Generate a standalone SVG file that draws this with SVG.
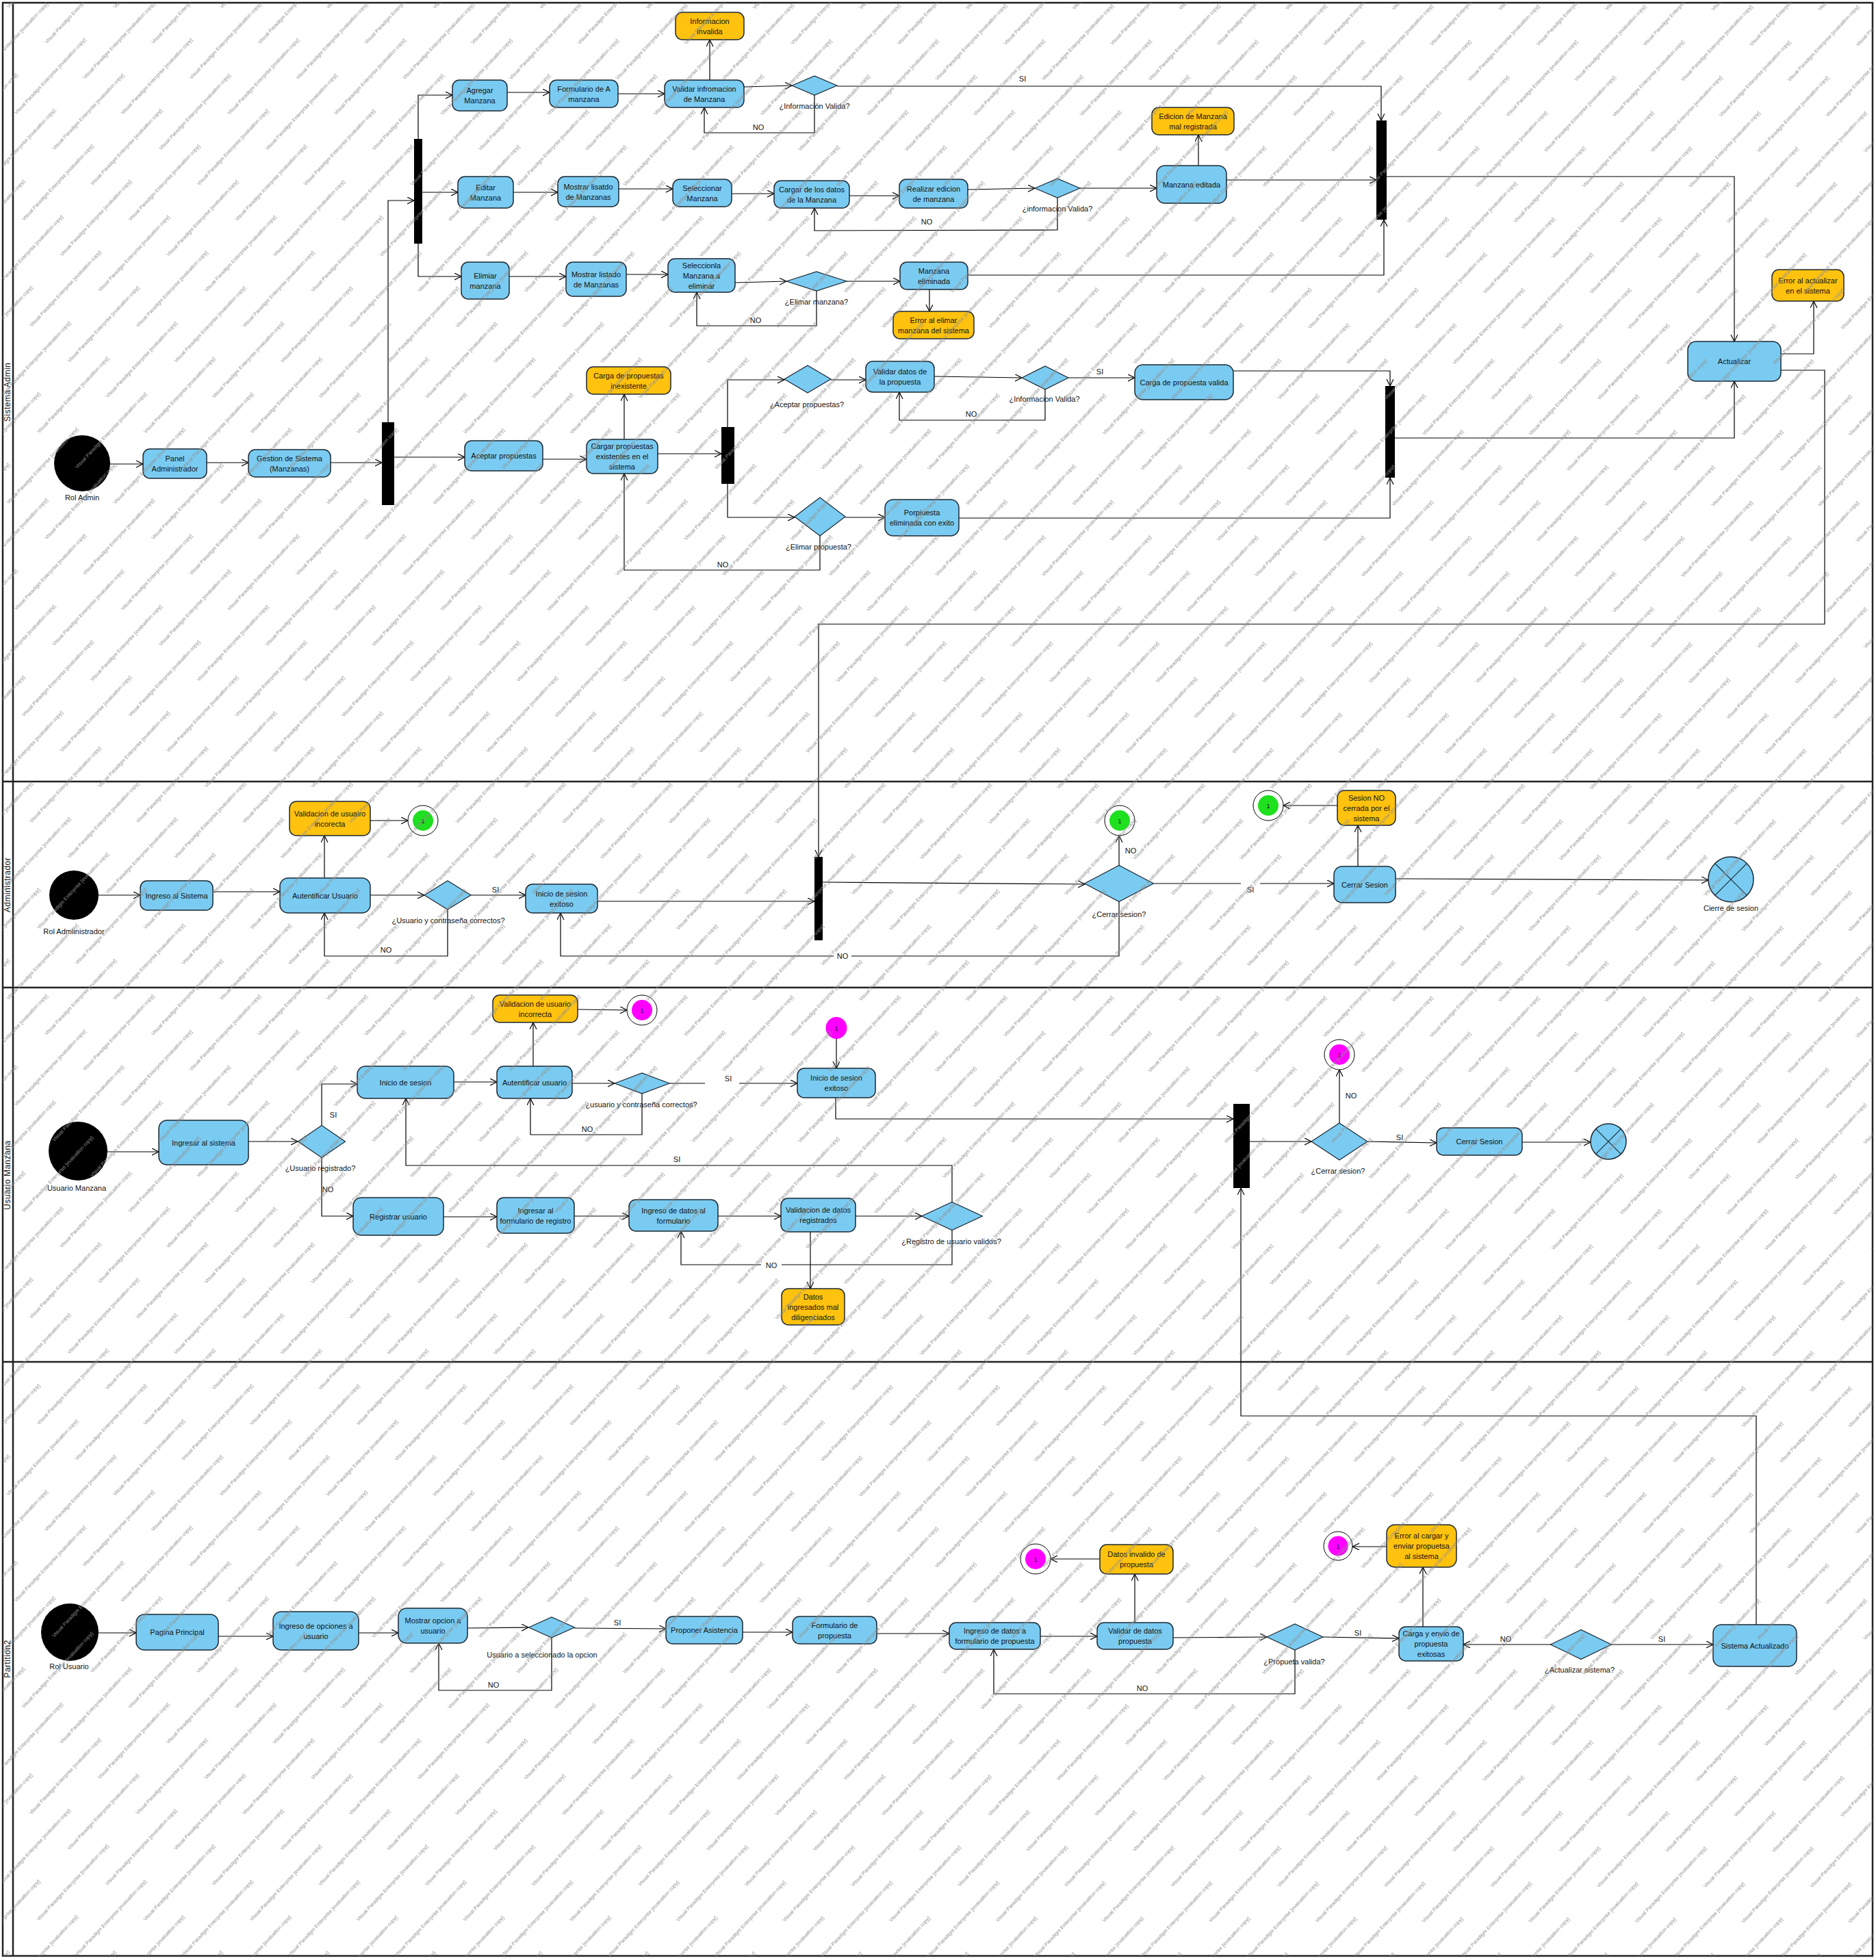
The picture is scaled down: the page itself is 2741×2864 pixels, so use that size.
<svg xmlns="http://www.w3.org/2000/svg" width="2741" height="2864" viewBox="0 0 2741 2864">
<defs>
<style>
text{font-family:"Liberation Sans",Arial,sans-serif;font-size:11px;fill:#111;}
.c{text-anchor:middle;}
.act{fill:#7ACBF1;stroke:#1c2833;stroke-width:1.5;}
.warn{fill:#FFC20E;stroke:#1c2833;stroke-width:1.5;}
.dec{fill:#7ACBF1;stroke:#1c2833;stroke-width:1.2;}
.bar{fill:#000;}
.init{fill:#000;}
.edge{fill:none;stroke:#000;stroke-width:1.2;}
.lane{fill:none;stroke:#222;stroke-width:2.5;}
.ring{fill:#fff;stroke:#000;stroke-width:1;}
.wm{font-size:7.5px;fill:#8e8e8e;}
.gap{fill:#fff;}
.lanelbl{font-size:12px;letter-spacing:0.5px;}
</style>
<marker id="arr" markerUnits="userSpaceOnUse" markerWidth="12" markerHeight="12" refX="10" refY="5" orient="auto">
<path d="M0,0 L10,5 L0,10" fill="none" stroke="#000" stroke-width="1.2"/>
</marker>
<pattern id="wmp" patternUnits="userSpaceOnUse" width="212" height="76" patternTransform="rotate(-47)">
<text class="wm" x="0" y="18">Visual Paradigm Enterprise [evaluation copy]</text>
<text class="wm" x="106" y="56">Visual Paradigm Enterprise [evaluation copy]</text>
<text class="wm" x="-106" y="56">Visual Paradigm Enterprise [evaluation copy]</text>
</pattern>
</defs>
<rect x="0" y="0" width="2741" height="2864" fill="#fff"/>

<g id="lanes">
<rect class="lane" x="4" y="4" width="2732" height="2854"/>
<line class="lane" x1="19" y1="4" x2="19" y2="2858"/>
<line class="lane" x1="4" y1="1142" x2="2736" y2="1142"/>
<line class="lane" x1="4" y1="1443" x2="2736" y2="1443"/>
<line class="lane" x1="4" y1="1990" x2="2736" y2="1990"/>
<text class="c lanelbl" transform="translate(15,573) rotate(-90)">Sistema Admin</text>
<text class="c lanelbl" transform="translate(15,1293) rotate(-90)">Administrador</text>
<text class="c lanelbl" transform="translate(15,1717) rotate(-90)">Usuario Manzana</text>
<text class="c lanelbl" transform="translate(15,2424) rotate(-90)">Partition2</text>
</g>

<g id="connectors" marker-end="url(#arr)">
<!-- lane 1 -->
<polyline class="edge" points="161,678 209,678"/>
<polyline class="edge" points="302,676 363,676"/>
<polyline class="edge" points="483,676 558,676"/>
<polyline class="edge" points="567,617 567,293 605,293"/>
<polyline class="edge" points="611,203 611,139 661,139"/>
<polyline class="edge" points="617,281 669,281"/>
<polyline class="edge" points="611,356 611,404 674,404"/>
<polyline class="edge" points="741,135 803,135"/>
<polyline class="edge" points="903,137 971,137"/>
<polyline class="edge" points="1037,117 1037,58"/>
<polyline class="edge" points="1087,127 1157,125"/>
<polyline class="edge" points="1190,139 1190,194 1029,194 1029,157"/>
<polyline class="edge" points="1223,126 2018,126 2018,176"/>
<polyline class="edge" points="750,281 815,281"/>
<polyline class="edge" points="904,276 983,276"/>
<polyline class="edge" points="1069,283 1131,283"/>
<polyline class="edge" points="1241,286 1314,286"/>
<polyline class="edge" points="1414,277 1512,275"/>
<polyline class="edge" points="1545,289 1545,336 1190,337 1190,304"/>
<polyline class="edge" points="1578,275 1690,275"/>
<polyline class="edge" points="1751,242 1751,197"/>
<polyline class="edge" points="1792,263 2011,263"/>
<polyline class="edge" points="744,404 827,404"/>
<polyline class="edge" points="915,401 976,401"/>
<polyline class="edge" points="1074,413 1149,411"/>
<polyline class="edge" points="1193,425 1193,476 1018,476 1018,427"/>
<polyline class="edge" points="1237,411 1315,411"/>
<polyline class="edge" points="1358,423 1358,455"/>
<polyline class="edge" points="1414,402 2022,402 2022,321"/>
<polyline class="edge" points="2026,258 2534,258 2534,499"/>
<polyline class="edge" points="2602,517 2650,517 2650,440"/>
<polyline class="edge" points="2602,541 2666,541 2666,912 1196,912 1196,1252"/>
<polyline class="edge" points="2038,640 2534,640 2534,557"/>
<polyline class="edge" points="576,668 679,668"/>
<polyline class="edge" points="793,671 857,671"/>
<polyline class="edge" points="912,642 912,576"/>
<polyline class="edge" points="961,663 1054,663"/>
<polyline class="edge" points="1063,624 1063,555 1146,555"/>
<polyline class="edge" points="1214,555 1265,555"/>
<polyline class="edge" points="1365,550 1493,552"/>
<polyline class="edge" points="1527,569 1527,614 1314,614 1314,573"/>
<polyline class="edge" points="1561,552 1658,552"/>
<polyline class="edge" points="1802,542 2031,542 2031,564"/>
<polyline class="edge" points="1063,707 1063,756 1161,756"/>
<polyline class="edge" points="1235,756 1293,756"/>
<polyline class="edge" points="1198,783 1198,833 912,833 912,692"/>
<polyline class="edge" points="1401,757 2031,757 2031,698"/>
<!-- lane 2 -->
<polyline class="edge" points="144,1308 205,1308"/>
<polyline class="edge" points="311,1303 409,1303"/>
<polyline class="edge" points="474,1283 474,1221"/>
<polyline class="edge" points="541,1199 596,1199"/>
<polyline class="edge" points="541,1308 620,1308"/>
<polyline class="edge" points="654,1329 654,1397 474,1397 474,1334"/>
<polyline class="edge" points="688,1308 768,1308"/>
<polyline class="edge" points="873,1317 1190,1317"/>
<polyline class="edge" points="1202,1289 1585,1292"/>
<polyline class="edge" points="1635,1265 1635,1221"/>
<polyline class="edge" points="1635,1318 1635,1397 819,1397 819,1334"/>
<polyline class="edge" points="1686,1291 1949,1291"/>
<polyline class="edge" points="1984,1266 1984,1206"/>
<polyline class="edge" points="1954,1177 1875,1177"/>
<polyline class="edge" points="2039,1284 2496,1286"/>
<!-- lane 3 -->
<polyline class="edge" points="157,1683 232,1683"/>
<polyline class="edge" points="363,1668 435,1668"/>
<polyline class="edge" points="470,1644 470,1584 522,1584"/>
<polyline class="edge" points="470,1691 470,1777 516,1777"/>
<polyline class="edge" points="663,1581 726,1581"/>
<polyline class="edge" points="779,1558 779,1494"/>
<polyline class="edge" points="844,1475 916,1476"/>
<polyline class="edge" points="836,1583 898,1583"/>
<polyline class="edge" points="938,1598 938,1658 775,1658 775,1605"/>
<polyline class="edge" points="978,1583 1165,1583"/>
<polyline class="edge" points="1222,1518 1222,1561"/>
<polyline class="edge" points="1221,1604 1221,1635 1802,1635"/>
<polyline class="edge" points="648,1778 726,1778"/>
<polyline class="edge" points="839,1777 919,1777"/>
<polyline class="edge" points="1049,1777 1141,1777"/>
<polyline class="edge" points="1250,1777 1347,1777"/>
<polyline class="edge" points="1184,1800 1184,1883"/>
<polyline class="edge" points="1391,1757 1391,1703 593,1703 593,1605"/>
<polyline class="edge" points="1391,1798 1391,1848 995,1848 995,1799"/>
<polyline class="edge" points="1826,1668 1916,1668"/>
<polyline class="edge" points="1957,1641 1957,1563"/>
<polyline class="edge" points="1998,1668 2099,1670"/>
<polyline class="edge" points="2224,1669 2324,1669"/>
<polyline class="edge" points="2566,2374 2566,2069 1813,2069 1813,1736"/>
<!-- lane 4 -->
<polyline class="edge" points="144,2386 199,2386"/>
<polyline class="edge" points="319,2391 399,2391"/>
<polyline class="edge" points="524,2386 582,2386"/>
<polyline class="edge" points="683,2379 772,2378"/>
<polyline class="edge" points="806,2393 806,2470 641,2470 641,2401"/>
<polyline class="edge" points="839,2379 973,2380"/>
<polyline class="edge" points="1085,2385 1158,2385"/>
<polyline class="edge" points="1281,2387 1387,2387"/>
<polyline class="edge" points="1520,2391 1603,2391"/>
<polyline class="edge" points="1658,2371 1658,2300"/>
<polyline class="edge" points="1607,2278 1535,2278"/>
<polyline class="edge" points="1714,2393 1851,2392"/>
<polyline class="edge" points="1892,2411 1892,2475 1452,2475 1452,2410"/>
<polyline class="edge" points="1933,2392 2044,2394"/>
<polyline class="edge" points="2079,2377 2079,2290"/>
<polyline class="edge" points="2026,2260 1976,2260"/>
<polyline class="edge" points="2266,2403 2138,2403"/>
<polyline class="edge" points="2355,2403 2503,2403"/>
</g>

<g id="edge-labels">
<text class="c" x="1108" y="190">NO</text>
<text class="c" x="1494" y="119">SI</text>
<text class="c" x="1354" y="328">NO</text>
<text class="c" x="1104" y="472">NO</text>
<text class="c" x="1419" y="609">NO</text>
<text class="c" x="1607" y="547">SI</text>
<text class="c" x="1056" y="829">NO</text>
<text class="c" x="564" y="1392">NO</text>
<text class="c" x="724" y="1304">SI</text>
<text class="c" x="1652" y="1247">NO</text>
<rect class="gap" x="1218" y="1390" width="26" height="14"/>
<text class="c" x="1231" y="1401">NO</text>
<rect class="gap" x="1813" y="1284" width="28" height="20"/>
<text class="c" x="1827" y="1304">SI</text>
<text class="c" x="487" y="1633">SI</text>
<text class="c" x="479" y="1742">NO</text>
<text class="c" x="858" y="1654">NO</text>
<rect class="gap" x="1030" y="1576" width="50" height="14"/>
<text class="c" x="1064" y="1580">SI</text>
<text class="c" x="989" y="1698">SI</text>
<rect class="gap" x="1112" y="1841" width="30" height="14"/>
<text class="c" x="1127" y="1853">NO</text>
<text class="c" x="1974" y="1605">NO</text>
<text class="c" x="2045" y="1666">SI</text>
<text class="c" x="721" y="2466">NO</text>
<text class="c" x="902" y="2375">SI</text>
<text class="c" x="1669" y="2471">NO</text>
<text class="c" x="1984" y="2390">SI</text>
<text class="c" x="2200" y="2399">NO</text>
<text class="c" x="2428" y="2399">SI</text>
</g>

<!-- ===== Lane 1: Sistema Admin ===== -->
<g id="n-rol-admin"><circle class="init" cx="120" cy="677" r="41"/><text class="c" x="120" y="731">Rol Admin</text></g>
<g id="n-panel"><rect class="act" x="209" y="656" width="93" height="43" rx="10"/><text class="c" x="255.5" y="674">Panel</text><text class="c" x="255.5" y="689">Administrador</text></g>
<g id="n-gestion"><rect class="act" x="363" y="657" width="120" height="40" rx="10"/><text class="c" x="423" y="673.5">Gestion de Sistema</text><text class="c" x="423" y="688.5">(Manzanas)</text></g>
<g id="bar-a"><rect class="bar" x="558" y="617" width="18" height="121"/></g>
<g id="bar-b"><rect class="bar" x="605" y="203" width="12" height="153"/></g>
<g id="n-agregar"><rect class="act" x="661" y="117" width="80" height="45" rx="10"/><text class="c" x="701" y="136">Agregar</text><text class="c" x="701" y="151">Manzana</text></g>
<g id="n-formA"><rect class="act" x="803" y="117" width="100" height="40" rx="10"/><text class="c" x="853" y="133.5">Formulario de A</text><text class="c" x="853" y="148.5">manzana</text></g>
<g id="n-validar-info"><rect class="act" x="971" y="117" width="116" height="40" rx="10"/><text class="c" x="1029" y="133.5">Validar infromacion</text><text class="c" x="1029" y="148.5">de Manzana</text></g>
<g id="n-info-invalida"><rect class="warn" x="987" y="18" width="100" height="40" rx="10"/><text class="c" x="1037" y="34.5">Informacion</text><text class="c" x="1037" y="49.5">invalida</text></g>
<g id="d1"><polygon class="dec" points="1157,125 1190,111 1223,125 1190,139"/><text class="c" x="1190" y="159">¿Información Valida?</text></g>
<g id="n-editar"><rect class="act" x="669" y="258" width="81" height="46" rx="10"/><text class="c" x="709.5" y="277.5">Editar</text><text class="c" x="709.5" y="292.5">Manzana</text></g>
<g id="n-mostrar1"><rect class="act" x="815" y="258" width="89" height="44" rx="10"/><text class="c" x="859.5" y="276.5">Mostrar lisatdo</text><text class="c" x="859.5" y="291.5">de Manzanas</text></g>
<g id="n-seleccionar"><rect class="act" x="983" y="262" width="86" height="40" rx="10"/><text class="c" x="1026" y="278.5">Seleccionar</text><text class="c" x="1026" y="293.5">Manzana</text></g>
<g id="n-cargar-datos"><rect class="act" x="1131" y="264" width="110" height="40" rx="10"/><text class="c" x="1186" y="280.5">Cargar de los datos</text><text class="c" x="1186" y="295.5">de la Manzana</text></g>
<g id="n-realizar"><rect class="act" x="1314" y="262" width="100" height="42" rx="10"/><text class="c" x="1364" y="279.5">Realizar edicion</text><text class="c" x="1364" y="294.5">de manzana</text></g>
<g id="d2"><polygon class="dec" points="1512,275 1545,261 1578,275 1545,289"/><text class="c" x="1545" y="309">¿informacion Valida?</text></g>
<g id="n-editada"><rect class="act" x="1690" y="242" width="102" height="55" rx="12"/><text class="c" x="1741" y="273.5">Manzana editada</text></g>
<g id="n-edicion-mal"><rect class="warn" x="1683" y="157" width="120" height="40" rx="10"/><text class="c" x="1743" y="173.5">Edicion de Manzana</text><text class="c" x="1743" y="188.5">mal registrada</text></g>
<g id="bar-c"><rect class="bar" x="2011" y="176" width="15" height="145"/></g>
<g id="n-elimiar"><rect class="act" x="674" y="383" width="70" height="54" rx="10"/><text class="c" x="709" y="406.5">Elimiar</text><text class="c" x="709" y="421.5">manzana</text></g>
<g id="n-mostrar2"><rect class="act" x="827" y="383" width="88" height="50" rx="10"/><text class="c" x="871" y="404.5">Mostrar listado</text><text class="c" x="871" y="419.5">de Manzanas</text></g>
<g id="n-seleccionla"><rect class="act" x="976" y="378" width="98" height="49" rx="10"/><text class="c" x="1025" y="391.5">Seleccionla</text><text class="c" x="1025" y="406.5">Manzana a</text><text class="c" x="1025" y="421.5">eliminar</text></g>
<g id="d3"><polygon class="dec" points="1149,411 1193,397 1237,411 1193,425"/><text class="c" x="1193" y="445">¿Elimar manzana?</text></g>
<g id="n-eliminada"><rect class="act" x="1315" y="383" width="99" height="40" rx="10"/><text class="c" x="1364.5" y="399.5">Manzana</text><text class="c" x="1364.5" y="414.5">eliminada</text></g>
<g id="n-error-elimar"><rect class="warn" x="1305" y="455" width="118" height="40" rx="10"/><text class="c" x="1364" y="471.5">Error al elimar</text><text class="c" x="1364" y="486.5">manzana del sistema</text></g>
<g id="n-actualizar"><rect class="act" x="2466" y="499" width="136" height="58" rx="12"/><text class="c" x="2534" y="532">Actualizar</text></g>
<g id="n-error-actualizar"><rect class="warn" x="2589" y="394" width="105" height="46" rx="10"/><text class="c" x="2641.5" y="413.5">Error al actualizar</text><text class="c" x="2641.5" y="428.5">en el sistema</text></g>
<g id="n-aceptar"><rect class="act" x="679" y="644" width="114" height="44" rx="10"/><text class="c" x="736" y="670">Aceptar propuestas</text></g>
<g id="n-cargar-prop"><rect class="act" x="857" y="642" width="104" height="50" rx="10"/><text class="c" x="909" y="656">Cargar propuestas</text><text class="c" x="909" y="671">existentes en el</text><text class="c" x="909" y="686">sistema</text></g>
<g id="n-carga-inexistente"><rect class="warn" x="857" y="536" width="123" height="40" rx="10"/><text class="c" x="918.5" y="552.5">Carga de propuestas</text><text class="c" x="918.5" y="567.5">inexistente</text></g>
<g id="bar-d"><rect class="bar" x="1054" y="624" width="19" height="83"/></g>
<g id="d4"><polygon class="dec" points="1146,554 1180,534 1214,554 1180,574"/><text class="c" x="1179" y="595">¿Aceptar propuestas?</text></g>
<g id="n-validar-datos"><rect class="act" x="1265" y="528" width="100" height="45" rx="10"/><text class="c" x="1315" y="547">Validar datos de</text><text class="c" x="1315" y="562">la propuesta</text></g>
<g id="d5"><polygon class="dec" points="1493,552 1527,535 1561,552 1527,569"/><text class="c" x="1526" y="587">¿Informacion Valida?</text></g>
<g id="n-carga-valida"><rect class="act" x="1658" y="533" width="144" height="51" rx="12"/><text class="c" x="1730" y="562.5">Carga de propuesta valida</text></g>
<g id="d6"><polygon class="dec" points="1161,755 1198,727 1235,755 1198,783"/><text class="c" x="1196" y="803">¿Elimar propuesta?</text></g>
<g id="n-porpiuesta"><rect class="act" x="1293" y="730" width="108" height="53" rx="12"/><text class="c" x="1347" y="753">Porpiuesta</text><text class="c" x="1347" y="768">eliminada con exito</text></g>
<g id="bar-e"><rect class="bar" x="2024" y="564" width="14" height="134"/></g>

<!-- ===== Lane 2: Administrador ===== -->
<g id="n-rol-administrador"><circle class="init" cx="108" cy="1308" r="36"/><text class="c" x="108" y="1365">Rol Admiinistrador</text></g>
<g id="n-ingreso-sistema"><rect class="act" x="205" y="1287" width="106" height="43" rx="10"/><text class="c" x="258" y="1312.5">Ingreso al Sistema</text></g>
<g id="n-autentificar1"><rect class="act" x="409" y="1283" width="132" height="51" rx="12"/><text class="c" x="475" y="1312.5">Autentificar Usuario</text></g>
<g id="n-validacion1"><rect class="warn" x="423" y="1171" width="118" height="50" rx="10"/><text class="c" x="482" y="1192.5">Validacion de usuairo</text><text class="c" x="482" y="1207.5">incorecta</text></g>
<g id="c-green1"><circle class="ring" cx="618" cy="1199" r="22"/><circle cx="618" cy="1199" r="15" fill="#1EE01E"/><text class="c" x="618" y="1203" style="font-size:9px">1</text></g>
<g id="d7"><polygon class="dec" points="620,1308 654,1287 688,1308 654,1329"/><text class="c" x="655" y="1349">¿Usuario y contraseña correctos?</text></g>
<g id="n-inicio-exitoso1"><rect class="act" x="768" y="1292" width="105" height="42" rx="10"/><text class="c" x="820.5" y="1309.5">Inicio de sesion</text><text class="c" x="820.5" y="1324.5">exitoso</text></g>
<g id="bar-f"><rect class="bar" x="1190" y="1252" width="12" height="122"/></g>
<g id="d8"><polygon class="dec" points="1584.5,1291 1635,1264.5 1685.5,1291 1635,1317.5"/><text class="c" x="1635" y="1340">¿Cerrar sesion?</text></g>
<g id="c-green2"><circle class="ring" cx="1636" cy="1199" r="22"/><circle cx="1636" cy="1199" r="15" fill="#1EE01E"/><text class="c" x="1636" y="1203" style="font-size:9px">1</text></g>
<g id="n-cerrar1"><rect class="act" x="1949" y="1266" width="90" height="53" rx="12"/><text class="c" x="1994" y="1296.5">Cerrar Sesion</text></g>
<g id="n-sesion-no"><rect class="warn" x="1954" y="1155" width="85" height="51" rx="10"/><text class="c" x="1996.5" y="1169.5">Sesion NO</text><text class="c" x="1996.5" y="1184.5">cerrada por el</text><text class="c" x="1996.5" y="1199.5">sistema</text></g>
<g id="c-green3"><circle class="ring" cx="1853" cy="1177" r="22"/><circle cx="1853" cy="1177" r="15" fill="#1EE01E"/><text class="c" x="1853" y="1181" style="font-size:9px">1</text></g>
<g id="n-cierre"><circle class="act" cx="2529" cy="1285" r="33"/><line x1="2505.7" y1="1261.7" x2="2552.3" y2="1308.3" stroke="#1c2833" stroke-width="1.2"/><line x1="2552.3" y1="1261.7" x2="2505.7" y2="1308.3" stroke="#1c2833" stroke-width="1.2"/><text class="c" x="2529" y="1331">Cierre de sesion</text></g>

<!-- ===== Lane 3: Usuario Manzana ===== -->
<g id="n-usuario-manzana"><circle class="init" cx="114" cy="1682" r="43"/><text class="c" x="112" y="1740">Usuario Manzana</text></g>
<g id="n-ingresar-sistema"><rect class="act" x="232" y="1637" width="131" height="65" rx="12"/><text class="c" x="297.5" y="1673.5">Ingresar al sistema</text></g>
<g id="d9"><polygon class="dec" points="435.5,1668 470,1644.5 504.5,1668 470,1691.5"/><text class="c" x="468" y="1711">¿Usuario registrado?</text></g>
<g id="n-inicio-sesion"><rect class="act" x="522" y="1558" width="141" height="47" rx="12"/><text class="c" x="592.5" y="1585.5">Inicio de sesion</text></g>
<g id="n-autentificar2"><rect class="act" x="726" y="1558" width="110" height="47" rx="10"/><text class="c" x="781" y="1585.5">Autentificar usuario</text></g>
<g id="n-validacion2"><rect class="warn" x="720" y="1454" width="124" height="40" rx="10"/><text class="c" x="782" y="1470.5">Validacion de usuario</text><text class="c" x="782" y="1485.5">incorrecta</text></g>
<g id="c-mag1"><circle class="ring" cx="938" cy="1476" r="22"/><circle cx="938" cy="1476" r="15" fill="#FF00FF"/><text class="c" x="938" y="1480" style="font-size:9px">1</text></g>
<g id="d10"><polygon class="dec" points="898,1583 938,1568 978,1583 938,1598"/><text class="c" x="937" y="1618">¿usuario y contraseña correctos?</text></g>
<g id="n-inicio-exitoso2"><rect class="act" x="1165" y="1561" width="114" height="43" rx="10"/><text class="c" x="1222" y="1579">Inicio de sesion</text><text class="c" x="1222" y="1594">exitoso</text></g>
<g id="c-mag-start"><ellipse cx="1222" cy="1502" rx="15.5" ry="16" fill="#FF00FF"/><text class="c" x="1222" y="1506" style="font-size:9px">1</text></g>
<g id="n-registrar"><rect class="act" x="516" y="1750" width="132" height="55" rx="12"/><text class="c" x="582" y="1781.5">Registrar usuario</text></g>
<g id="n-ingresar-form"><rect class="act" x="726" y="1750" width="113" height="52" rx="10"/><text class="c" x="782.5" y="1772.5">Ingresar al</text><text class="c" x="782.5" y="1787.5">formulario de registro</text></g>
<g id="n-ingreso-datos"><rect class="act" x="919" y="1753" width="130" height="46" rx="10"/><text class="c" x="984" y="1772.5">Ingreso de datos al</text><text class="c" x="984" y="1787.5">formulario</text></g>
<g id="n-validacion-datos"><rect class="act" x="1141" y="1751" width="109" height="49" rx="10"/><text class="c" x="1195.5" y="1772">Validacion de datos</text><text class="c" x="1195.5" y="1787">registrados</text></g>
<g id="d11"><polygon class="dec" points="1346.5,1777 1391,1756.5 1435.5,1777 1391,1797.5"/><text class="c" x="1390" y="1818">¿Registro de usuario validos?</text></g>
<g id="n-datos-mal"><rect class="warn" x="1142" y="1883" width="92" height="53" rx="10"/><text class="c" x="1188" y="1898.5">Datos</text><text class="c" x="1188" y="1913.5">ingresados mal</text><text class="c" x="1188" y="1928.5">diligenciados</text></g>
<g id="bar-g"><rect class="bar" x="1802" y="1613" width="24" height="123"/></g>
<g id="d12"><polygon class="dec" points="1916,1668 1957,1641 1998,1668 1957,1695"/><text class="c" x="1955" y="1715">¿Cerrar sesion?</text></g>
<g id="c-mag2"><circle class="ring" cx="1957" cy="1541" r="22"/><circle cx="1957" cy="1541" r="15" fill="#FF00FF"/><text class="c" x="1957" y="1545" style="font-size:9px">1</text></g>
<g id="n-cerrar2"><rect class="act" x="2099" y="1648" width="125" height="40" rx="10"/><text class="c" x="2161.5" y="1672">Cerrar Sesion</text></g>
<g id="n-final2"><circle class="act" cx="2350" cy="1668" r="26"/><line x1="2331.6" y1="1649.6" x2="2368.4" y2="1686.4" stroke="#1c2833" stroke-width="1.2"/><line x1="2368.4" y1="1649.6" x2="2331.6" y2="1686.4" stroke="#1c2833" stroke-width="1.2"/></g>

<!-- ===== Lane 4: Partition2 ===== -->
<g id="n-rol-usuario"><circle class="init" cx="102" cy="2385" r="42"/><text class="c" x="101" y="2439">Rol Usuario</text></g>
<g id="n-pagina"><rect class="act" x="199" y="2359" width="120" height="52" rx="12"/><text class="c" x="259" y="2389">Pagina Principal</text></g>
<g id="n-ingreso-opciones"><rect class="act" x="399" y="2355" width="125" height="56" rx="12"/><text class="c" x="461.5" y="2379.5">Ingreso de opciones a</text><text class="c" x="461.5" y="2394.5">usuario</text></g>
<g id="n-mostrar-opcion"><rect class="act" x="582" y="2350" width="101" height="51" rx="12"/><text class="c" x="632.5" y="2372">Mostrar opcion a</text><text class="c" x="632.5" y="2387">usuario</text></g>
<g id="d13"><polygon class="dec" points="772.5,2378 806,2363 839.5,2378 806,2393"/><text class="c" x="792" y="2422">Usuario a seleccionado la opcion</text></g>
<g id="n-proponer"><rect class="act" x="973" y="2362" width="112" height="40" rx="10"/><text class="c" x="1029" y="2386">Proponer Asistencia</text></g>
<g id="n-formulario-prop"><rect class="act" x="1158" y="2362" width="123" height="40" rx="10"/><text class="c" x="1219.5" y="2378.5">Formulario de</text><text class="c" x="1219.5" y="2393.5">propuesta</text></g>
<g id="n-ingreso-datos-prop"><rect class="act" x="1387" y="2371" width="133" height="39" rx="10"/><text class="c" x="1453.5" y="2387">Ingreso de datos a</text><text class="c" x="1453.5" y="2402">formulario de propuesta</text></g>
<g id="n-validar-prop"><rect class="act" x="1603" y="2371" width="111" height="39" rx="10"/><text class="c" x="1658.5" y="2387">Validar de datos</text><text class="c" x="1658.5" y="2402">propuesta</text></g>
<g id="n-datos-invalido"><rect class="warn" x="1607" y="2257" width="107" height="43" rx="10"/><text class="c" x="1660.5" y="2275">Datos invalido de</text><text class="c" x="1660.5" y="2290">propuesta</text></g>
<g id="c-mag3"><circle class="ring" cx="1513" cy="2278" r="22"/><circle cx="1513" cy="2278" r="15" fill="#FF00FF"/><text class="c" x="1513" y="2282" style="font-size:9px">1</text></g>
<g id="d14"><polygon class="dec" points="1851,2392 1892,2373 1933,2392 1892,2411"/><text class="c" x="1891" y="2432">¿Propueta valida?</text></g>
<g id="n-carga-envio"><rect class="act" x="2044" y="2377" width="94" height="50" rx="10"/><text class="c" x="2091" y="2391">Carga y envio de</text><text class="c" x="2091" y="2406">propuesta</text><text class="c" x="2091" y="2421">exitosas</text></g>
<g id="n-error-cargar"><rect class="warn" x="2026" y="2228" width="102" height="62" rx="12"/><text class="c" x="2077" y="2248">Error al cargar y</text><text class="c" x="2077" y="2263">enviar propuetsa</text><text class="c" x="2077" y="2278">al sistema</text></g>
<g id="c-mag4"><circle class="ring" cx="1955" cy="2259" r="21"/><circle cx="1955" cy="2259" r="14.5" fill="#FF00FF"/><text class="c" x="1955" y="2263" style="font-size:9px">1</text></g>
<g id="d15"><polygon class="dec" points="2265.5,2403 2310,2381.5 2354.5,2403 2310,2424.5"/><text class="c" x="2308" y="2444">¿Actualizar sistema?</text></g>
<g id="n-sistema-actualizado"><rect class="act" x="2503" y="2374" width="122" height="61" rx="12"/><text class="c" x="2564" y="2408.5">Sistema Actualizado</text></g>

<rect x="4" y="4" width="2732" height="2854" fill="url(#wmp)"/>
</svg>
